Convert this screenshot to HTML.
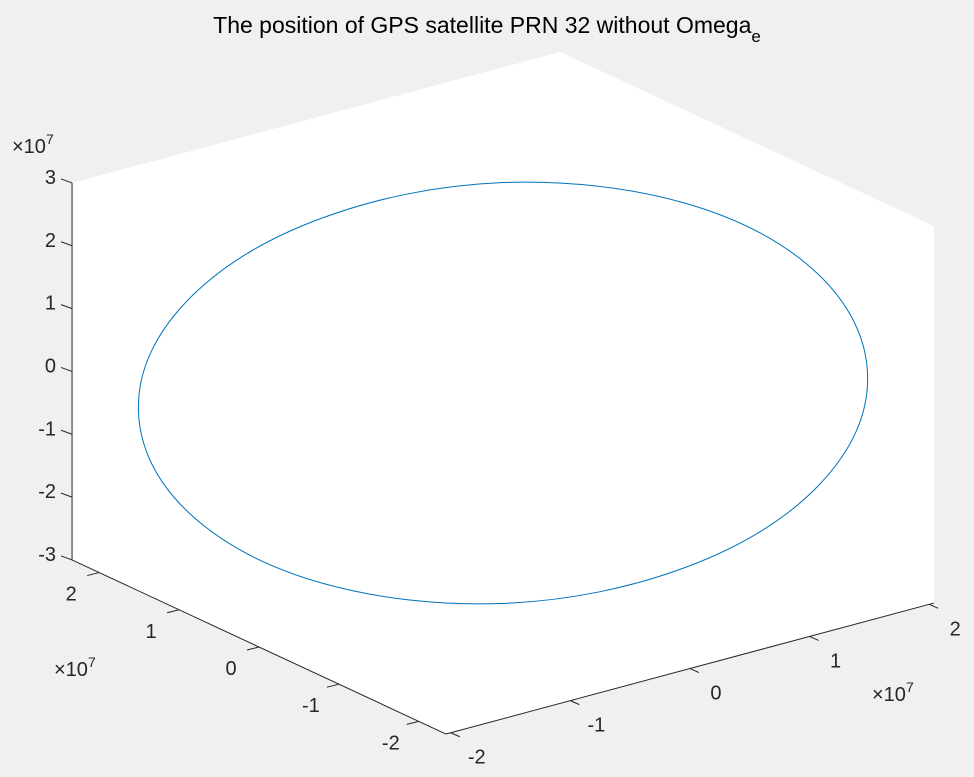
<!DOCTYPE html>
<html><head><meta charset="utf-8"><style>
html,body{margin:0;padding:0;background:#f0f0f0;}
svg{display:block;font-family:"Liberation Sans",Helvetica,Arial,sans-serif;}
text{fill:#262626;font-size:20px;}
</style></head><body>
<svg id="chart" width="974" height="777" viewBox="0 0 974 777">
<text x="487" y="33" text-anchor="middle" style="font-size:23px;fill:#000">The position of GPS satellite PRN 32 without Omega<tspan dy="9" style="font-size:17px">e</tspan></text>
<g id="panes"></g><g id="axes"></g><g id="series"></g>
</svg>
<script>
// data in units of 1e7 m
const xTicks = [-2, -1, 0, 1, 2];
const yTicks = [-2, -1, 0, 1, 2];
const zTicks = [-3, -2, -1, 0, 1, 2, 3];
const orbitX = [2.12, 2.23, 2.19, 2.00, 1.68, 1.23, 0.71, 0.14, -0.45, -1.00, -1.48, -1.87, -2.12, -2.23, -2.19, -2.00, -1.68, -1.23, -0.71, -0.14, 0.45, 1.00, 1.48, 1.87];
const orbitY = [-1.39, -1.06, -0.66, -0.21, 0.25, 0.69, 1.09, 1.41, 1.64, 1.75, 1.75, 1.62, 1.39, 1.06, 0.66, 0.21, -0.25, -0.69, -1.09, -1.41, -1.64, -1.75, -1.75, -1.62];
const orbitZ = [0, 0.61, 1.17, 1.66, 2.02, 2.26, 2.34, 2.26, 2.02, 1.66, 1.17, 0.61, 0, -0.61, -1.17, -1.66, -2.02, -2.26, -2.34, -2.26, -2.02, -1.66, -1.17, -0.61];

const XL=[-2.04,2.04], YL=[-2.34,2.34], ZL=[-3,3];
const O=[503,393], EX=[119.6,-32.1], EY=[-79.9,-37.2], EZ=-62.83;
function P(x,y,z){return [O[0]+x*EX[0]+y*EY[0], O[1]+x*EX[1]+y*EY[1]+z*EZ];}
const NS="http://www.w3.org/2000/svg";
function mk(tag,attrs,parent){const e=document.createElementNS(NS,tag);for(const k in attrs)e.setAttribute(k,attrs[k]);parent.appendChild(e);return e;}
const panes=document.getElementById('panes'), axes=document.getElementById('axes'), series=document.getElementById('series');

const hex=[P(XL[0],YL[1],ZL[1]),P(XL[1],YL[1],ZL[1]),P(XL[1],YL[0],ZL[1]),P(XL[1],YL[0],ZL[0]),P(XL[0],YL[0],ZL[0]),P(XL[0],YL[1],ZL[0])];
const pane=mk('polygon',{points:hex.map(p=>p.join(',')).join(' '),fill:'#fff'},panes);



function line(a,b,name){const l=mk('line',{x1:a[0],y1:a[1],x2:b[0],y2:b[1],stroke:'#262626','stroke-width':1},axes);

return l;}
function label(t,x,y,anchor,name){const e=mk('text',{x:x,y:y,'text-anchor':anchor},axes);e.textContent=t;

return e;}

line(P(XL[0],YL[1],ZL[0]),P(XL[0],YL[1],ZL[1]),'z-axis-line');
zTicks.forEach(v=>{const p=P(XL[0],YL[1],v);line(p,[p[0]-11,p[1]-4],'z-tick');label(String(v),p[0]-16,p[1]+1,'end','z-tick-label');});
line(P(XL[0],YL[0],ZL[0]),P(XL[0],YL[1],ZL[0]),'y-axis-line');
yTicks.forEach(v=>{const p=P(XL[0],v,ZL[0]);line(p,[p[0]-12,p[1]+3],'y-tick');label(String(v),p[0]-28,p[1]+28,'middle','y-tick-label');});
line(P(XL[0],YL[0],ZL[0]),P(XL[1],YL[0],ZL[0]),'x-axis-line');
xTicks.forEach(v=>{const p=P(v,YL[0],ZL[0]);line(p,[p[0]+9,p[1]+4],'x-tick');label(String(v),p[0]+26,p[1]+31,'middle','x-tick-label');});

function expo(x,y,name){const e=mk('text',{x:x,y:y},axes);e.innerHTML='×10<tspan dy="-9" style="font-size:14px">7</tspan>';

}
expo(12,153,'z-exponent');expo(54,676,'y-exponent');expo(872,701,'x-exponent');

const pts=orbitX.map((x,i)=>P(x,orbitY[i],orbitZ[i]));
const n=pts.length;let d='M'+pts[0].join(',');
for(let i=0;i<n;i++){const p0=pts[(i-1+n)%n],p1=pts[i],p2=pts[(i+1)%n],p3=pts[(i+2)%n];
const c1=[p1[0]+(p2[0]-p0[0])/6,p1[1]+(p2[1]-p0[1])/6],c2=[p2[0]-(p3[0]-p1[0])/6,p2[1]-(p3[1]-p1[1])/6];
d+=' C'+c1.join(',')+' '+c2.join(',')+' '+p2.join(',');}
const path=mk('path',{d:d,fill:'none',stroke:'#0072bd','stroke-width':1},series);


</script>
</body></html>
